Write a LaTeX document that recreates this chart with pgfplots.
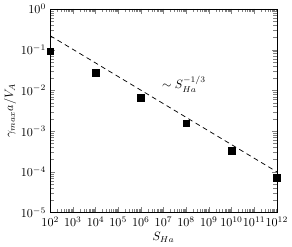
\documentclass[border=0pt]{standalone}
\usepackage{pgfplots}
\pgfplotsset{compat=1.18}
\begin{document}
\begin{tikzpicture}
\begin{axis}[
  scale only axis,
  width=187pt, height=168pt,
  xmode=log, ymode=log,
  xmin=1e2, xmax=1e12, ymin=1e-5, ymax=1,
  xtick={1e2,1e3,1e4,1e5,1e6,1e7,1e8,1e9,1e10,1e11,1e12},
  ytick={1e-5,1e-4,1e-3,1e-2,1e-1,1},
  tick align=inside,
  xtick pos=both, ytick pos=both,
  minor tick num=8,
  xlabel={$S_{Ha}$},
  ylabel={$\gamma_{max} a/V_A$},
  xlabel style={yshift=2pt},
  ylabel style={yshift=-3pt},
  clip=false,
]
\addplot[only marks, mark=square*, mark size=2.8pt, black] coordinates {
(1e2,0.092) (1e4,0.027) (1e6,0.0065) (1e8,0.00155) (1e10,0.00033) (1e12,7.3e-5)
};
\addplot[black, semithick, dash pattern=on 4pt off 3pt] coordinates {
(1e2,0.22) (1e12,1.0e-4)
};
\node at (axis cs:8e7,0.014) {$\sim S_{Ha}^{-1/3}$};
\end{axis}
\end{tikzpicture}
\end{document}
